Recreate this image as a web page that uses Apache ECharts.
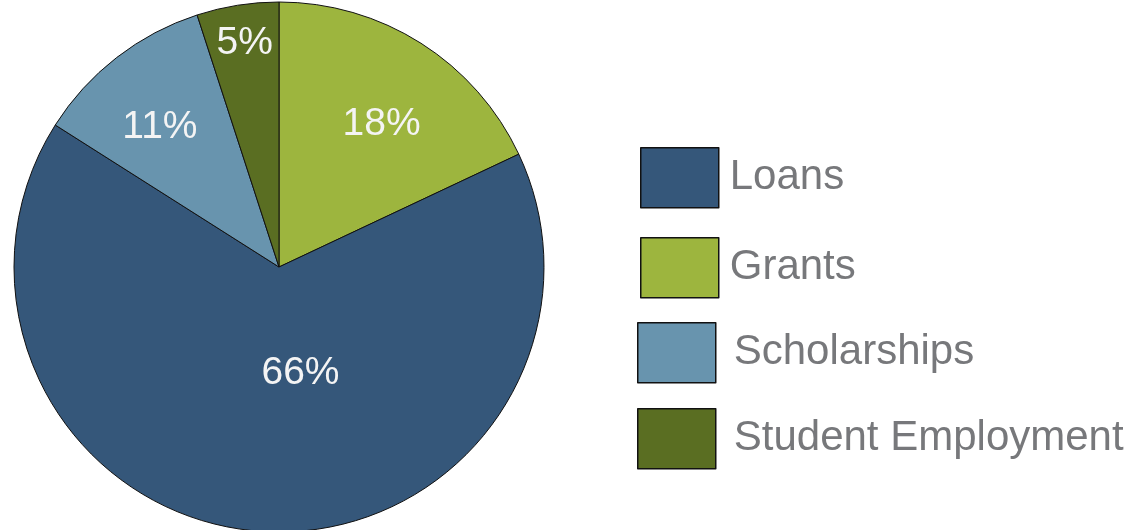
<!DOCTYPE html>
<html>
<head>
<meta charset="utf-8">
<script src="https://cdn.jsdelivr.net/npm/echarts@6/dist/echarts.min.js"></script>
<style>
html,body{margin:0;padding:0;background:#fff;}
#chart{width:1135px;height:530px;}
</style>
</head>
<body>
<div id="chart"></div>
<script>
// Data (clockwise order from 12 o'clock)
const categories = ['Grants', 'Loans', 'Scholarships', 'Student Employment'];
const values = [18, 66, 11, 5];
const legendOrder = ['Loans', 'Grants', 'Scholarships', 'Student Employment'];

const colorMap = {
  'Loans': '#35577a',
  'Grants': '#9db53e',
  'Scholarships': '#6894ae',
  'Student Employment': '#5a6e22'
};
const labelShift = {
  'Grants': [30, -28],
  'Loans': [30, -29],
  'Scholarships': [-36, -33],
  'Student Employment': [-13, -90]
};
const legendPos = [
  { left: 640, top: 147, gap: 12 },
  { left: 640, top: 237, gap: 12 },
  { left: 637, top: 322, gap: 19 },
  { left: 637, top: 408, gap: 19 }
];

const chart = echarts.init(document.getElementById('chart'), null, { renderer: 'canvas' });
const font = '"Liberation Sans", Arial, Helvetica, sans-serif';

const legends = legendOrder.map((name, i) => ({
  orient: 'vertical',
  left: legendPos[i].left,
  top: legendPos[i].top,
  padding: 0,
  itemWidth: 78,
  itemHeight: 60,
  itemGap: 0,
  icon: 'rect',
  selectedMode: false,
  data: [name],
  itemStyle: { borderColor: '#111', borderWidth: 1.5 },
  textStyle: {
    fontFamily: font,
    fontSize: 42,
    color: '#77787b',
    padding: [0, 0, 0, legendPos[i].gap - 6]
  }
}));

chart.setOption({
  animation: false,
  backgroundColor: '#fff',
  legend: legends,
  series: [{
    type: 'pie',
    center: [279, 267],
    radius: [0, 265],
    startAngle: 90,
    clockwise: true,
    avoidLabelOverlap: false,
    data: categories.map((c, i) => ({
      name: c,
      value: values[i],
      itemStyle: { color: colorMap[c] }
    })),
    itemStyle: { borderColor: '#111', borderWidth: 1 },
    label: {
      show: true,
      position: 'inside',
      formatter: '{c}%',
      color: '#f4f4f4',
      fontFamily: font,
      fontSize: 39
    },
    labelLine: { show: false },
    labelLayout: function (params) {
      const name = categories[params.dataIndex];
      const s = labelShift[name];
      return { dx: s[0], dy: s[1] };
    },
    emphasis: { disabled: true }
  }]
});
</script>
</body>
</html>
